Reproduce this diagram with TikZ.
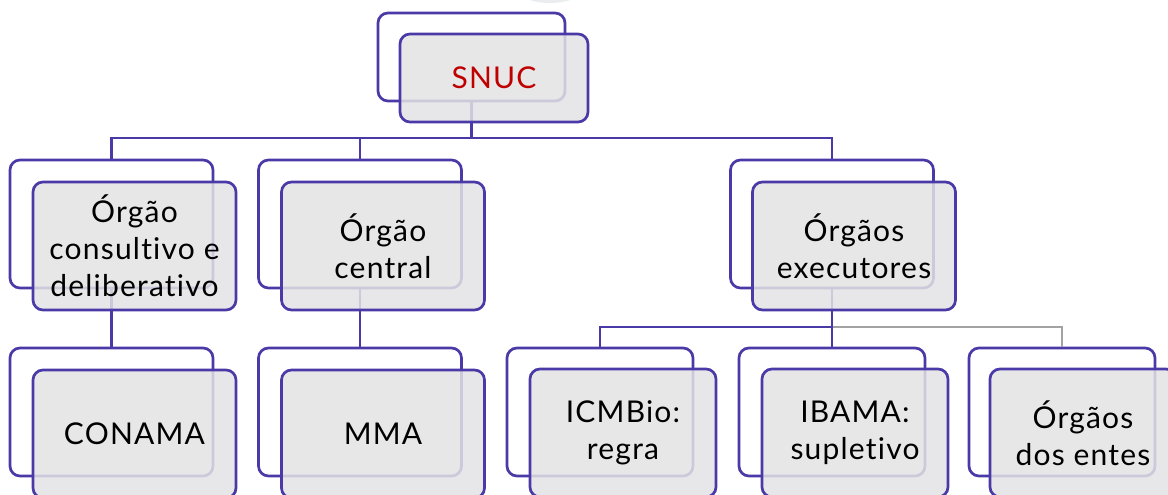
\documentclass[tikz,border=0pt]{standalone}
\usepackage{fontspec}
\setmainfont{Lato}[Ligatures={NoCommon,NoContextual}, LetterSpace=4]
\definecolor{purp}{HTML}{4A3AA8}
\definecolor{boxgray}{HTML}{E3E3E5}
\definecolor{conngray}{HTML}{A3A3A3}
\definecolor{snucred}{HTML}{C00000}
\definecolor{ghost}{HTML}{E9EDF0}
\tikzset{
  backbox/.style={draw=purp, line width=2.7pt, rounded corners=10pt, fill=white,
    minimum width=#1, minimum height=128pt, inner sep=0pt},
  frontbox/.style={draw=purp, line width=2.7pt, rounded corners=10pt, fill=boxgray,
    fill opacity=0.85, draw opacity=1, text opacity=1,
    minimum width=#1, minimum height=128pt, inner sep=0pt, align=center,
    font=\fontsize{30pt}{37pt}\selectfont},
  conn/.style={draw=purp, line width=2.7pt},
  conng/.style={draw=conngray, line width=2.7pt},
}
\begin{document}
\begin{tikzpicture}[x=1pt,y=-1pt]
\useasboundingbox (0,0) rectangle (1168,495);
\clip (0,0) rectangle (1168,495);
\fill[ghost] (550,-14) ellipse (36pt and 17pt);
% back frames
\node[backbox=187pt, minimum height=88pt] (snucB) at (471.5,57) {};
\node[backbox=203pt] (aB) at (111.5,224) {};
\node[backbox=203pt] (bB) at (360,224) {};
\node[backbox=203pt] (cB) at (832,224) {};
\node[backbox=203pt] (conB) at (111.5,412) {};
\node[backbox=203pt] (mmaB) at (360,412) {};
\node[backbox=186pt] (icmB) at (600,412) {};
\node[backbox=186pt] (ibaB) at (832,412) {};
\node[backbox=186pt] (entB) at (1062,412) {};
% connectors
\coordinate (bus1) at (0,138);
\coordinate (bus2) at (0,327);
\draw[conn] (snucB.south) -- (snucB.south |- bus1);
\draw[conn] (aB.north) -- (aB.north |- bus1) -- (cB.north |- bus1) -- (cB.north);
\draw[conn] (bB.north) -- (bB.north |- bus1);
\draw[conn] (aB.south) -- (conB.north);
\draw[conn] (bB.south) -- (mmaB.north);
\draw[conng] (cB.south |- bus2) -- (entB.north |- bus2) -- (entB.north);
\draw[conn] (cB.south) -- (ibaB.north);
\draw[conn] (icmB.north) -- (icmB.north |- bus2) -- (cB.south |- bus2);
% front boxes
\node[frontbox=188pt, minimum height=88pt, text=snucred, font=\fontsize{30pt}{36pt}\selectfont] (snuc) at (494,78) {SNUC};
\node[frontbox=203pt] (a) at (134.5,246) {Órgão\\consultivo e\\deliberativo};
\node[frontbox=203pt] (b) at (383,246) {Órgão\\central};
\node[frontbox=203pt] (c) at (854,246) {Órgãos\\executores};
\node[frontbox=203pt] (con) at (134.5,434) {CONAMA};
\node[frontbox=203pt] (mma) at (383,434) {MMA};
\node[frontbox=186pt] (icm) at (623,433) {ICMBio:\\regra};
\node[frontbox=186pt] (iba) at (855,433) {IBAMA:\\supletivo};
\node[frontbox=186pt] (ent) at (1083,433) {Órgãos\\dos entes};
\end{tikzpicture}
\end{document}
